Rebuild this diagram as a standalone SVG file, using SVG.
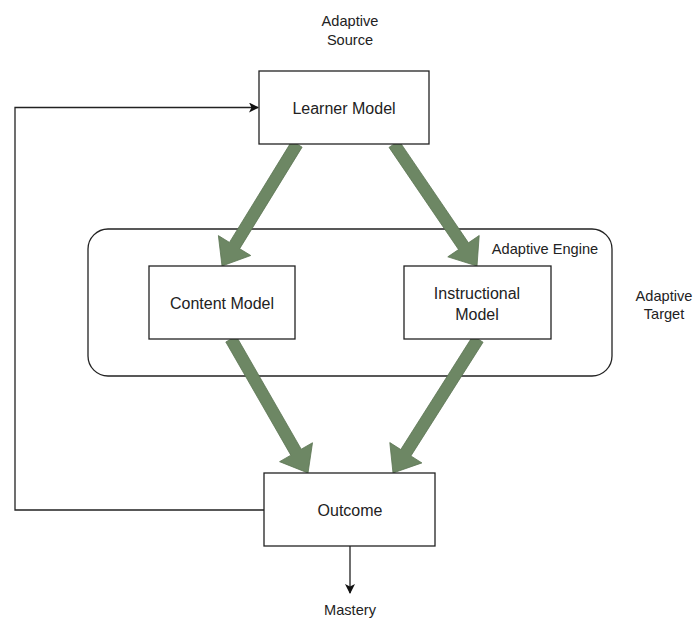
<svg xmlns="http://www.w3.org/2000/svg" width="693" height="619" viewBox="0 0 693 619">
<defs>
<style>
.box{fill:#ffffff;stroke:#222222;stroke-width:1.3}
.cont{fill:none;stroke:#222222;stroke-width:1.3}
.lbl{font-family:"Liberation Sans",Arial,sans-serif;font-size:16px;fill:#222222;text-anchor:middle}
.sm{font-family:"Liberation Sans",Arial,sans-serif;font-size:14.6px;fill:#222222;text-anchor:middle}
.flex{fill:#6d8764;stroke:#5a7352;stroke-width:0.8;stroke-linejoin:miter}
.line{fill:none;stroke:#222222;stroke-width:1.3}
</style>
<marker id="arr" markerUnits="userSpaceOnUse" markerWidth="12" markerHeight="12" refX="9" refY="5" orient="auto">
<path d="M0,0 L10,5 L0,10 L2.5,5 Z" fill="#111111"/>
</marker>
</defs>
<rect width="693" height="619" fill="#ffffff"/>
<g id="engine">
<rect class="cont" x="88" y="229" width="524" height="147" rx="20" ry="20"/>
<text class="sm" x="545" y="253.5">Adaptive Engine</text>
</g>
<g id="connectors">
<polygon class="flex" points="302.11,147.14 239.68,248.69 250.76,255.50 222,266 218.38,235.60 229.46,242.41 291.89,140.86"/>
<polygon class="flex" points="398.96,140.63 468.46,242.79 479.21,235.47 477,266 447.79,256.85 458.54,249.54 389.04,147.38"/>
<polygon class="flex" points="236.20,336.01 301.24,449.20 312.51,442.72 308,473 279.57,461.66 290.84,455.18 225.80,341.99"/>
<polygon class="flex" points="483.07,342.21 410.92,455.94 421.89,462.91 393,473 389.81,442.55 400.78,449.52 472.93,335.79"/>
<path class="line" d="M264,510 L15,510 L15,107.5 L258,107.5" marker-end="url(#arr)"/>
<path class="line" d="M350,546 L350,593" marker-end="url(#arr)"/>
</g>
<g id="learner">
<rect class="box" x="259" y="71" width="170" height="73"/>
<text class="lbl" x="344" y="113.5">Learner Model</text>
</g>
<g id="content">
<rect class="box" x="149" y="266" width="146" height="73"/>
<text class="lbl" x="222" y="308.5">Content Model</text>
</g>
<g id="instructional">
<rect class="box" x="404" y="266" width="147" height="73"/>
<text class="lbl" x="477" y="299">Instructional</text>
<text class="lbl" x="477" y="320">Model</text>
</g>
<g id="outcome">
<rect class="box" x="264" y="473" width="171" height="73"/>
<text class="lbl" x="350" y="516">Outcome</text>
</g>
<g id="source">
<text class="sm" x="350" y="26">Adaptive</text>
<text class="sm" x="350" y="44.5">Source</text>
</g>
<g id="target">
<text class="sm" x="664" y="300.5">Adaptive</text>
<text class="sm" x="664" y="319">Target</text>
</g>
<g id="mastery">
<text class="sm" x="350" y="615">Mastery</text>
</g>
</svg>
